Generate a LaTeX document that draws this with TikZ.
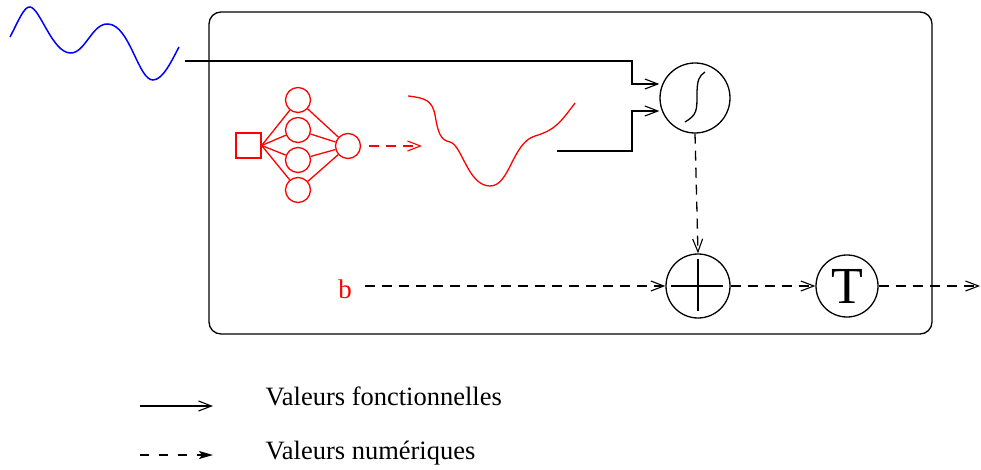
\documentclass[tikz,border=0pt]{standalone}
\usepackage{fontspec}
\setmainfont{Liberation Serif}
\usetikzlibrary{arrows.meta}
\begin{document}
\begin{tikzpicture}[x=1pt,y=-1pt,
  line width=1.3pt,
  arr/.style={-{Straight Barb[length=13pt,width=10pt,line width=1.1pt]}},
  dsh/.style={dash pattern=on 10pt off 7pt},
  legdsh/.style={dash pattern=on 9pt off 10pt,-{Stealth[length=14pt,width=8pt,inset=3pt]}},
  op/.style={draw,circle,minimum size=64pt,inner sep=0pt},
  neur/.style={draw=red,circle,minimum size=25pt,inner sep=0pt},
  lbl/.style={anchor=base west,inner sep=0pt,font=\fontsize{26.5}{30}\selectfont}]
\useasboundingbox (0,0) rectangle (981,470);
% frame
\draw[rounded corners=12pt] (209,12) rectangle (932,334);
% blue input wave
\draw[blue,line width=1.5pt] (10,37) .. controls (18,22) and (24,6) .. (30,7)
  .. controls (40,8) and (52,52) .. (70,53)
  .. controls (85,54) and (92,23) .. (108,24)
  .. controls (130,25) and (138,80) .. (153,80)
  .. controls (163,80) and (172,60) .. (179,47);
% operator nodes
\node[op,minimum size=70pt] (sig) at (695,98) {};
\draw (685,122) .. controls (697,115) and (697,110) .. (697,95)
  .. controls (697,80) and (699,76) .. (705,72);
\node[op] (plus) at (698,286) {};
\draw (plus.north) ++(0,6) -- ++(0,52);
\draw (plus.west) ++(6,0) -- ++(52,0);
\node[op,minimum size=62pt,font=\fontsize{52}{54}\selectfont] (T) at (847,286) {T};
% inputs to sigma
\coordinate (w0) at (185,61);
\coordinate (c0) at (557,151);
\draw[arr] (w0) -- (632,61) -- (632,84) -- (sig.west |- 0,84);
\draw[arr] (c0) -- (632,151) -- (632,111) -- (sig.west |- 0,111);
% dashed chain
\draw[arr,dsh] (sig.south) -- (plus.north);
\node[red,font=\fontsize{27}{29}\selectfont,inner sep=0pt] (b) at (345,289) {b};
\draw[arr,dsh] (365,286) -- (plus.west);
\draw[arr,dsh] (plus.east) -- (T.west);
\coordinate (out) at (980,286);
\draw[arr,dsh] (T.east) -- (out);
% neural network (red)
\node[draw=red,minimum size=25pt,inner sep=0pt] (sq) at (248.5,145.5) {};
\node[neur] (h1) at (298,100) {};
\node[neur] (h2) at (298,130) {};
\node[neur] (h3) at (298,160) {};
\node[neur] (h4) at (298,190) {};
\node[neur] (o) at (348,146) {};
\foreach \h in {h1,h2,h3,h4} {
  \draw[red] (sq.east) -- (\h);
  \draw[red] (\h) -- (o);
}
\coordinate (rc) at (422,146);
\draw[red,arr,dsh] (o.east) ++(8,0) -- (rc);
% red function curve
\draw[red] (408,96) .. controls (425,98) and (432,100) .. (435,115)
  .. controls (438,132) and (440,140) .. (450,142)
  .. controls (462,145) and (468,186) .. (490,186)
  .. controls (510,186) and (512,143) .. (535,136)
  .. controls (555,130) and (560,123) .. (575,103);
% legend
\coordinate (l1a) at (140,406); \coordinate (l1b) at (213,406);
\coordinate (l2a) at (140,455); \coordinate (l2b) at (213,455);
\draw[arr] (l1a) -- (l1b);
\draw[legdsh] (l2a) -- (l2b);
\node[lbl] (t1) at (265,405) {Valeurs fonctionnelles};
\node[lbl] (t2) at (265,459) {Valeurs numériques};
\end{tikzpicture}
\end{document}
